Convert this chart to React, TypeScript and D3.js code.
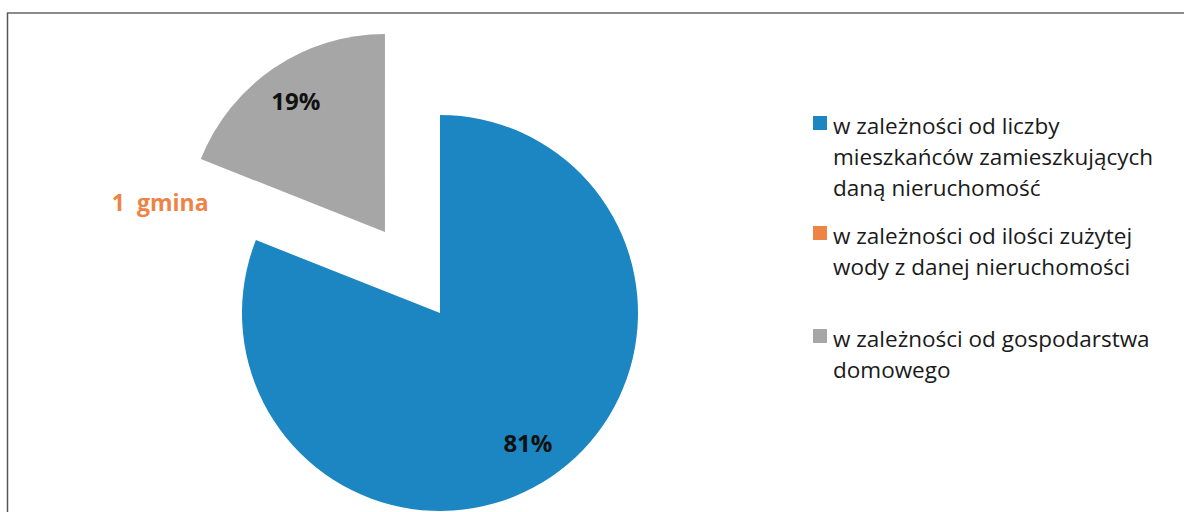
import React from "react";
import * as d3 from "d3";

const categories = [
  "w zależności od liczby mieszkańców zamieszkujących daną nieruchomość",
  "w zależności od ilości zużytej wody z danej nieruchomości",
  "w zależności od gospodarstwa domowego",
];
const values = [81, 0, 19];
const sliceLabels = ["81%", "1  gmina", "19%"];
const legendLines = [
  ["w zależności od liczby", "mieszkańców zamieszkujących", "daną nieruchomość"],
  ["w zależności od ilości zużytej", "wody z danej nieruchomości"],
  ["w zależności od gospodarstwa", "domowego"],
];
const colors = ["#1B86C1", "#EE8346", "#A6A6A6"];
const explode = [0, 0, 98];

const W = 1184;
const H = 512;
const cx = 440;
const cy = 313;
const R = 198;

export default function App() {
  const pie = d3
    .pie<number>()
    .sort(null)
    .startAngle(0)
    .endAngle(2 * Math.PI)
    .value((d) => d);
  const arcs = pie(values);
  const arc = d3.arc<d3.PieArcDatum<number>>().innerRadius(0).outerRadius(R);
  const font = "Open Sans, Lato, sans-serif";

  const legendTop = [125, 235, 338];
  const labelK = [0.79, 1.52, 0.8];

  return (
    <svg
      width={W}
      height={H}
      style={{ position: "absolute", left: 0, top: 0, background: "#fff" }}
    >
      <line x1={7} y1={13} x2={W} y2={13} stroke="#666" strokeWidth={1.5} />
      <line x1={7.5} y1={13} x2={7.5} y2={H} stroke="#555" strokeWidth={1.5} />
      {arcs.map((a, i) => {
        const mid = (a.startAngle + a.endAngle) / 2;
        const dx = Math.sin(mid) * explode[i];
        const dy = -Math.cos(mid) * explode[i];
        const ox = cx + dx;
        const oy = cy + dy;
        const k = labelK[i];
        const lx = ox + Math.sin(mid) * R * k;
        const ly = oy - Math.cos(mid) * R * k;
        return (
          <g key={categories[i]}>
            {values[i] > 0 && (
              <path d={arc(a) || ""} fill={colors[i]} transform={`translate(${ox},${oy})`} />
            )}
            <text
              x={lx}
              y={ly}
              textAnchor="middle"
              dominantBaseline="central"
              fontFamily={font}
              fontWeight={700}
              fontSize={i === 1 ? 23 : 24}
              fill={i === 1 ? colors[1] : "#111"}
              style={{ whiteSpace: "pre" }}
            >
              {sliceLabels[i]}
            </text>
          </g>
        );
      })}
      {legendLines.map((lines, i) => (
        <g key={"lg" + i}>
          <rect x={813} y={legendTop[i] - 9} width={14} height={14} fill={colors[i]} />
          {lines.map((t, j) => (
            <text
              key={j}
              x={833}
              y={legendTop[i] + j * 31}
              dominantBaseline="central"
              fontFamily={font}
              fontSize={22.5}
              fill="#1a1a1a"
            >
              {t}
            </text>
          ))}
        </g>
      ))}
    </svg>
  );
}
